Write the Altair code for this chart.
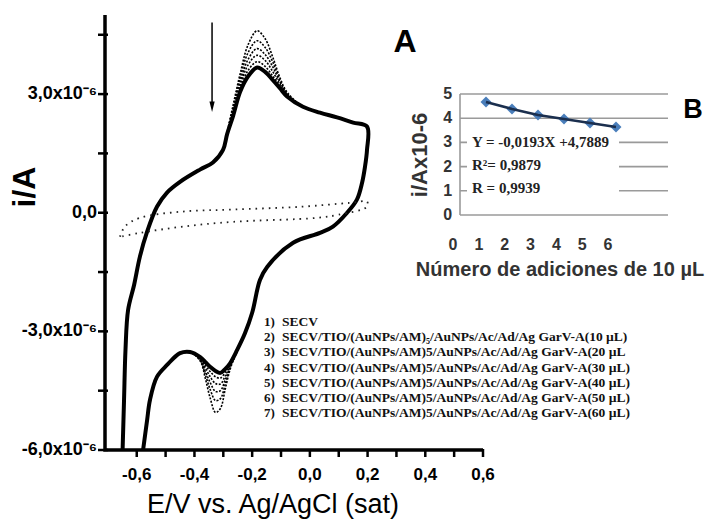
import altair as alt
import pandas as pd

# ---------------- axes ----------------
x_domain = [-0.71, 0.6]
y_domain = [-6, 5]
x_tick_vals = [-0.6, -0.5, -0.4, -0.3, -0.2, -0.1, 0.0, 0.1, 0.2, 0.3, 0.4, 0.5, 0.6]
y_tick_vals = [-6, -4.5, -3, -1.5, 0, 1.5, 3, 4.5]
x_label_vals = [-0.6, -0.4, -0.2, 0.0, 0.2, 0.4, 0.6]
x_label_txt = ["-0,6", "-0,4", "-0,2", "0,0", "0,2", "0,4", "0,6"]
y_label_vals = [3, 0, -3, -6]
y_label_txt = ["3,0x10\u207b\u2076", "0,0", "-3,0x10\u207b\u2076", "-6,0x10\u207b\u2076"]

# ---------------- main voltammogram data (current in 1e-6 A) ----------------
fwd_E = [-0.649, -0.644, -0.639, -0.630, -0.609, -0.589, -0.564, -0.530, -0.495, -0.450, -0.381, -0.336, -0.301]
fwd_i = [-6.0, -4.73, -3.47, -2.46, -1.82, -1.11, -0.48, 0.15, 0.51, 0.78, 1.09, 1.27, 1.59]

anod_E = [-0.287, -0.266, -0.242, -0.214, -0.183, -0.155, -0.128, -0.103, -0.079]
anod_2 = [2.03, 2.72, 3.50, 4.25, 4.60, 4.40, 3.92, 3.40, 3.05]
anod_3 = [2.02, 2.66, 3.40, 4.05, 4.35, 4.18, 3.80, 3.34, 3.02]
anod_4 = [2.01, 2.60, 3.30, 3.88, 4.15, 4.00, 3.68, 3.29, 3.00]
anod_5 = [2.00, 2.55, 3.21, 3.74, 3.98, 3.85, 3.56, 3.24, 2.98]
anod_6 = [1.99, 2.50, 3.13, 3.60, 3.82, 3.70, 3.45, 3.19, 2.96]
anod_7 = [1.98, 2.45, 3.05, 3.45, 3.67, 3.56, 3.35, 3.14, 2.94]

mid_E = [-0.024, 0.035, 0.094, 0.150, 0.198, 0.198, 0.191, 0.181, 0.163, 0.129, 0.080, 0.035, -0.058, -0.148, -0.173, -0.200, -0.225]
mid_i = [2.68, 2.53, 2.41, 2.28, 2.18, 1.59, 1.16, 0.76, 0.33, 0.0, -0.35, -0.51, -0.76, -1.37, -1.70, -2.53, -3.05]

cat_E = [-0.252, -0.276, -0.293, -0.310, -0.327, -0.345, -0.362, -0.380]
cat_2 = [-3.50, -3.95, -4.45, -4.95, -5.05, -4.70, -4.20, -3.75]
cat_3 = [-3.49, -3.92, -4.33, -4.70, -4.75, -4.48, -4.10, -3.73]
cat_4 = [-3.49, -3.89, -4.22, -4.50, -4.52, -4.30, -4.02, -3.72]
cat_5 = [-3.48, -3.86, -4.12, -4.33, -4.32, -4.15, -3.93, -3.70]
cat_6 = [-3.48, -3.83, -4.03, -4.18, -4.15, -4.02, -3.86, -3.68]
cat_7 = [-3.47, -3.80, -3.95, -4.05, -4.00, -3.90, -3.78, -3.65]

end_E = [-0.415, -0.450, -0.495, -0.530, -0.554, -0.564, -0.578]
end_i = [-3.52, -3.55, -3.85, -4.15, -4.73, -5.24, -6.0]

secv_E = [-0.658, -0.641, -0.589, -0.440, -0.266, -0.034, 0.139, 0.198, 0.198, 0.100, 0.025, -0.266, -0.440, -0.589, -0.658]
secv_i = [-0.61, -0.35, -0.13, 0.03, 0.08, 0.15, 0.25, 0.28, 0.15, -0.05, -0.13, -0.23, -0.35, -0.51, -0.61]

arrow_E = [-0.339]
arrow_top = [4.81]
arrow_tip = [2.68]

# ---------------- inset data ----------------
inset_x = [1, 2, 3, 4, 5, 6]
inset_y = [4.67, 4.38, 4.13, 3.97, 3.80, 3.64]
inset_yticks = [0, 1, 2, 3, 4, 5]
inset_xticks = [0, 1, 2, 3, 4, 5, 6]
eq_lines = ["Y = -0,0193X +4,7889", "R\u00b2= 0,9879", "R = 0,9939"]

legend_num = ["1)", "2)", "3)", "4)", "5)", "6)", "7)"]
legend_txt = [
    "SECV",
    "SECV/TIO/(AuNPs/AM)\u2085/AuNPs/Ac/Ad/Ag  GarV-A(10 \u00b5L)",
    "SECV/TIO/(AuNPs/AM)5/AuNPs/Ac/Ad/Ag  GarV-A(20 \u00b5L",
    "SECV/TIO/(AuNPs/AM)5/AuNPs/Ac/Ad/Ag  GarV-A(30 \u00b5L)",
    "SECV/TIO/(AuNPs/AM)5/AuNPs/Ac/Ad/Ag  GarV-A(40 \u00b5L)",
    "SECV/TIO/(AuNPs/AM)5/AuNPs/Ac/Ad/Ag  GarV-A(50 \u00b5L)",
    "SECV/TIO/(AuNPs/AM)5/AuNPs/Ac/Ad/Ag  GarV-A(60 \u00b5L)",
]

# ---------------- build tables ----------------
anod = {2: anod_2, 3: anod_3, 4: anod_4, 5: anod_5, 6: anod_6, 7: anod_7}
cat = {2: cat_2, 3: cat_3, 4: cat_4, 5: cat_5, 6: cat_6, 7: cat_7}
rows = []
for c in range(2, 8):
    Es = fwd_E + anod_E + mid_E + cat_E + end_E
    Is = fwd_i + anod[c] + mid_i + cat[c] + end_i
    for k, (e, v) in enumerate(zip(Es, Is)):
        rows.append({"curve": c, "idx": k, "E": e, "i": v})
cv = pd.DataFrame(rows)
secv = pd.DataFrame({"idx": range(len(secv_E)), "E": secv_E, "i": secv_i})
arrow = pd.DataFrame({"E": arrow_E, "top": arrow_top, "tip": arrow_tip})
# L-shaped axis frame: top of y axis -> origin -> right end of x axis
frame_df = pd.DataFrame({
    "idx": [0, 1, 2],
    "E": [x_domain[0], x_domain[0], x_domain[1]],
    "i": [y_domain[1], y_domain[0], y_domain[0]],
})

sx = alt.Scale(domain=x_domain, range=[105, 483], nice=False, zero=False)
sy = alt.Scale(domain=y_domain, range=[450, 15], nice=False, zero=False)

FONT = "Liberation Sans"
SERIF = "Liberation Serif"


def X(f, s=sx):
    return alt.X(f, scale=s, axis=None)


def Y(f, s=sy):
    return alt.Y(f, scale=s, axis=None)


base_curve = alt.Chart(cv).transform_filter("datum.curve == 7").mark_line(
    color="black", strokeWidth=4, interpolate="catmull-rom"
).encode(x=X("E:Q"), y=Y("i:Q"), order="idx:Q", detail="curve:N")
other_curves = alt.Chart(cv).transform_filter("datum.curve < 7").mark_line(
    color="black", strokeWidth=1.6, strokeDash=[2, 1.5], interpolate="catmull-rom"
).encode(x=X("E:Q"), y=Y("i:Q"), order="idx:Q", detail="curve:N")
secv_line = alt.Chart(secv).mark_line(
    color="#222", strokeWidth=1.8, strokeDash=[1.6, 5], interpolate="catmull-rom"
).encode(x=X("E:Q"), y=Y("i:Q"), order="idx:Q")
arrow_rule = alt.Chart(arrow).mark_rule(color="black", strokeWidth=1.5).encode(
    x=X("E:Q"), y=Y("top:Q"), y2="tip:Q"
)
arrow_head = alt.Chart(arrow).mark_point(
    shape="M-0.5,-1L0.5,-1L0,1Z", filled=True, color="black", size=110, opacity=1
).encode(x=X("E:Q"), y=Y("tip:Q"))

# axis frame as a thick line, ticks as tick marks
frame = alt.Chart(frame_df).mark_line(color="black", strokeWidth=3.5, strokeJoin="miter").encode(
    x=X("E:Q"), y=Y("i:Q"), order="idx:Q"
)
x_ticks = alt.Chart(pd.DataFrame({"v": x_tick_vals})).mark_tick(
    color="black", orient="vertical", size=8, thickness=2.5, opacity=1
).encode(x=X("v:Q"), y=alt.value(453))
y_ticks = alt.Chart(pd.DataFrame({"v": y_tick_vals})).mark_tick(
    color="black", orient="horizontal", size=10, thickness=2.5, opacity=1
).encode(y=Y("v:Q"), x=alt.value(103))
x_lab = alt.Chart(pd.DataFrame({"v": x_label_vals, "t": x_label_txt})).mark_text(
    font=FONT, fontSize=17, fontWeight="bold", color="black", align="center", baseline="middle"
).encode(x=X("v:Q"), y=alt.value(475), text="t:N")
y_lab = alt.Chart(pd.DataFrame({"v": y_label_vals, "t": y_label_txt})).mark_text(
    font=FONT, fontSize=18, fontWeight="bold", color="black", align="right", baseline="middle"
).encode(y=Y("v:Q"), x=alt.value(97), text="t:N")

# ---------------- inset ----------------
ix = alt.Scale(domain=[0, 8], range=[460, 668], nice=False, zero=False)
iy = alt.Scale(domain=[0, 5], range=[215, 94], nice=False, zero=False)
GRAY = "#9a9a9a"

grid = alt.Chart(pd.DataFrame({"v": inset_yticks})).mark_rule(color=GRAY, strokeWidth=1.6).encode(
    x=X("a:Q", ix), x2="b:Q", y=Y("v:Q", iy)
).transform_calculate(a="0", b="8")
yline = alt.Chart(pd.DataFrame({"a": [0], "b": [5]})).mark_rule(color=GRAY, strokeWidth=1.6).encode(
    x=X("z:Q", ix), y=Y("a:Q", iy), y2="b:Q"
).transform_calculate(z="0")
ybox = alt.Chart(pd.DataFrame({"a": [0]})).mark_rect(color="white").encode(
    x=alt.value(467), x2=alt.value(619), y=alt.value(133), y2=alt.value(205)
)
ylabels = alt.Chart(pd.DataFrame({"v": inset_yticks})).mark_text(
    font=FONT, fontSize=16, fontWeight="bold", color="#333", align="center", baseline="middle"
).encode(x=X("p:Q", ix), y=Y("v:Q", iy), text="v:N").transform_calculate(p="-0.47")
pts_df = pd.DataFrame({"x": inset_x, "y": inset_y})
diam = alt.Chart(pts_df).mark_point(shape="diamond", filled=True, color="#4a7ebb", size=120, opacity=1).encode(
    x=X("x:Q", ix), y=Y("y:Q", iy)
)
trend = alt.Chart(pts_df).mark_line(color="#1b2f4e", strokeWidth=2.6).encode(
    x=X("x:Q", ix), y=Y("y:Q", iy)
)
inset = alt.layer(grid, yline, ybox, ylabels, diam, trend)

eq_df = pd.DataFrame({"row": [0, 1, 2], "t": eq_lines})
eq_scale = alt.Scale(domain=[0, 2], range=[142, 188], nice=False, zero=False)
eqs = alt.Chart(eq_df).mark_text(
    font=SERIF, fontSize=15, fontWeight="bold", color="#222", align="left", baseline="middle"
).encode(x=alt.value(472), y=Y("row:Q", eq_scale), text="t:N")

xl_scale = alt.Scale(domain=[0, 6], range=[453, 608], nice=False, zero=False)
xlabels = alt.Chart(pd.DataFrame({"v": inset_xticks})).mark_text(
    font=FONT, fontSize=16, fontWeight="bold", color="#333", align="center", baseline="middle"
).encode(x=X("v:Q", xl_scale), y=alt.value(245), text="v:N")

# ---------------- legend ----------------
leg_df = pd.DataFrame({"row": list(range(1, 8)), "n": legend_num, "t": legend_txt})
lg_scale = alt.Scale(domain=[1, 7], range=[322, 413], nice=False, zero=False)
leg_num = alt.Chart(leg_df).mark_text(
    font=SERIF, fontSize=13, fontWeight="bold", color="#111", align="left", baseline="middle"
).encode(x=alt.value(264), y=Y("row:Q", lg_scale), text="n:N")
leg_txt = alt.Chart(leg_df).mark_text(
    font=SERIF, fontSize=13.5, fontWeight="bold", color="#111", align="left", baseline="middle"
).encode(x=alt.value(282), y=Y("row:Q", lg_scale), text="t:N")


# ---------------- titles / labels ----------------
def label(txt, x, y, size, weight="bold", angle=0, color="black", font=FONT):
    return alt.Chart(pd.DataFrame({"t": [txt]})).mark_text(
        font=font, fontSize=size, fontWeight=weight, color=color, align="center",
        baseline="middle", angle=angle
    ).encode(x=alt.value(x), y=alt.value(y), text="t:N")


titles = [
    label("i/A", 25, 187, 32, angle=270),
    label("E/V vs. Ag/AgCl (sat)", 273, 505, 27, weight="normal"),
    label("A", 405, 42, 32),
    label("B", 693, 110, 27),
    label("i/Ax10-6", 420, 155, 22, angle=270, color="#333"),
    label("N\u00famero de adiciones de 10 \u00b5L", 560, 270, 20, color="#333"),
]

chart = alt.layer(
    base_curve, other_curves, secv_line, arrow_rule, arrow_head,
    frame, x_ticks, y_ticks, x_lab, y_lab,
    inset, eqs, xlabels, leg_num, leg_txt, *titles
).resolve_scale(
    x="independent", y="independent"
).properties(
    width=717, height=522,
    padding=0,
    autosize=alt.AutoSizeParams(type="none"),
    background="white",
).configure_view(stroke=None)

chart.save("out.html", embed_options={"renderer": "svg", "actions": False})
